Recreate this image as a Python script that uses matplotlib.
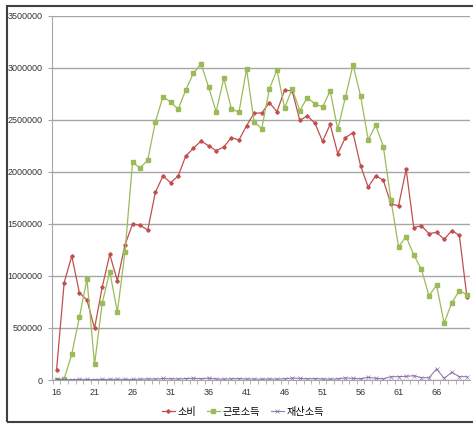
import matplotlib.pyplot as plt
from matplotlib.patches import Rectangle
from matplotlib.ticker import FixedLocator

plt.rcParams['font.family'] = ['Liberation Sans', 'Noto Sans CJK KR', 'DejaVu Sans']

# ----------------------------
# DATA
# ----------------------------
ages = list(range(16, 71))

consumption = [
    96000, 935000, 1191000, 839000, 769000, 497000, 890000, 1207000, 954000, 1297000,
    1499000, 1486000, 1441000, 1803000, 1960000, 1896000, 1960000, 2152000, 2226000, 2296000,
    2251000, 2203000, 2239000, 2328000, 2306000, 2443000, 2565000, 2565000, 2665000, 2578000,
    2783000, 2780000, 2495000, 2537000, 2466000, 2293000, 2456000, 2175000, 2328000, 2376000,
    2059000, 1854000, 1963000, 1918000, 1691000, 1675000, 2024000, 1464000, 1483000, 1406000,
    1419000, 1352000, 1435000, 1390000, 794000,
]

labor_income = [
    0, 12000, 247000, 602000, 970000, 151000, 737000, 1041000, 653000, 1227000,
    2091000, 2037000, 2114000, 2479000, 2722000, 2671000, 2601000, 2786000, 2946000, 3039000,
    2815000, 2578000, 2898000, 2607000, 2572000, 2988000, 2479000, 2415000, 2796000, 2978000,
    2613000, 2799000, 2588000, 2713000, 2652000, 2623000, 2777000, 2408000, 2716000, 3027000,
    2732000, 2309000, 2447000, 2242000, 1729000, 1281000, 1377000, 1201000, 1066000, 810000,
    910000, 545000, 743000, 858000, 820000,
]

property_income = [
    5000, 3000, 4000, 6000, 5000, 4000, 6000, 5000, 7000, 6000,
    5000, 8000, 10000, 9000, 15000, 12000, 10000, 14000, 16000, 12000,
    18000, 10000, 8000, 12000, 14000, 10000, 9000, 8000, 10000, 9000,
    12000, 18000, 16000, 12000, 14000, 10000, 8000, 12000, 20000, 16000,
    12000, 26000, 16000, 12000, 32000, 32000, 35000, 41000, 22000, 22000,
    106000, 16000, 74000, 32000, 32000,
]

series_names = ["소비", "근로소득", "재산소득"]
y_ticks = list(range(0, 3500001, 500000))
x_ticks = list(range(16, 70, 5))

# ----------------------------
# PLOT
# ----------------------------
fig = plt.figure(figsize=(4.73, 4.24), dpi=100)
ax = fig.add_axes([52 / 473, 44 / 424, 418 / 473, 364.3 / 424])

ax.plot(ages, consumption, color="#C0504D", lw=0.9, marker="D", ms=1.8,
        label=series_names[0])
ax.plot(ages, labor_income, color="#9BBB59", lw=0.9, marker="s", ms=2.8,
        label=series_names[1])
ax.plot(ages, property_income, color="#8064A2", lw=0.8, marker="x", ms=2.5,
        mew=0.5, alpha=0.85, label=series_names[2])

ax.set_xlim(15.4, 70.4)
ax.set_ylim(0, 3500000)

ax.set_yticks(y_ticks)
ax.set_yticklabels([str(v) for v in y_ticks])
ax.yaxis.grid(True, color="#A6A6A6", lw=1.0)
ax.set_axisbelow(True)

ax.xaxis.set_major_locator(FixedLocator(x_ticks))
ax.xaxis.set_minor_locator(FixedLocator([a + 0.5 for a in range(15, 71)]))
ax.tick_params(axis="x", which="major", length=0, pad=6, labelsize=6.5, colors="#333333")
ax.tick_params(axis="x", which="minor", length=3, color="#A6A6A6")
ax.tick_params(axis="y", length=3, pad=4, labelsize=6.5, color="#A6A6A6",
               labelcolor="#333333")

for side in ["top", "right"]:
    ax.spines[side].set_visible(False)
for side in ["left", "bottom"]:
    ax.spines[side].set_color("#A6A6A6")

fig.legend(loc="center", bbox_to_anchor=(243 / 473, 12 / 424), ncol=3,
           frameon=False, handlelength=1.3, handletextpad=0.3, columnspacing=1.0,
           prop={"family": ["Noto Sans CJK KR", "DejaVu Sans"], "size": 7.3})

# chart border
fig.patches.append(Rectangle((7 / 473, 2 / 424), 1.0, 416 / 424, transform=fig.transFigure,
                             fill=False, ec="#404040", lw=1.5))

plt.savefig("out.png", dpi=100)
